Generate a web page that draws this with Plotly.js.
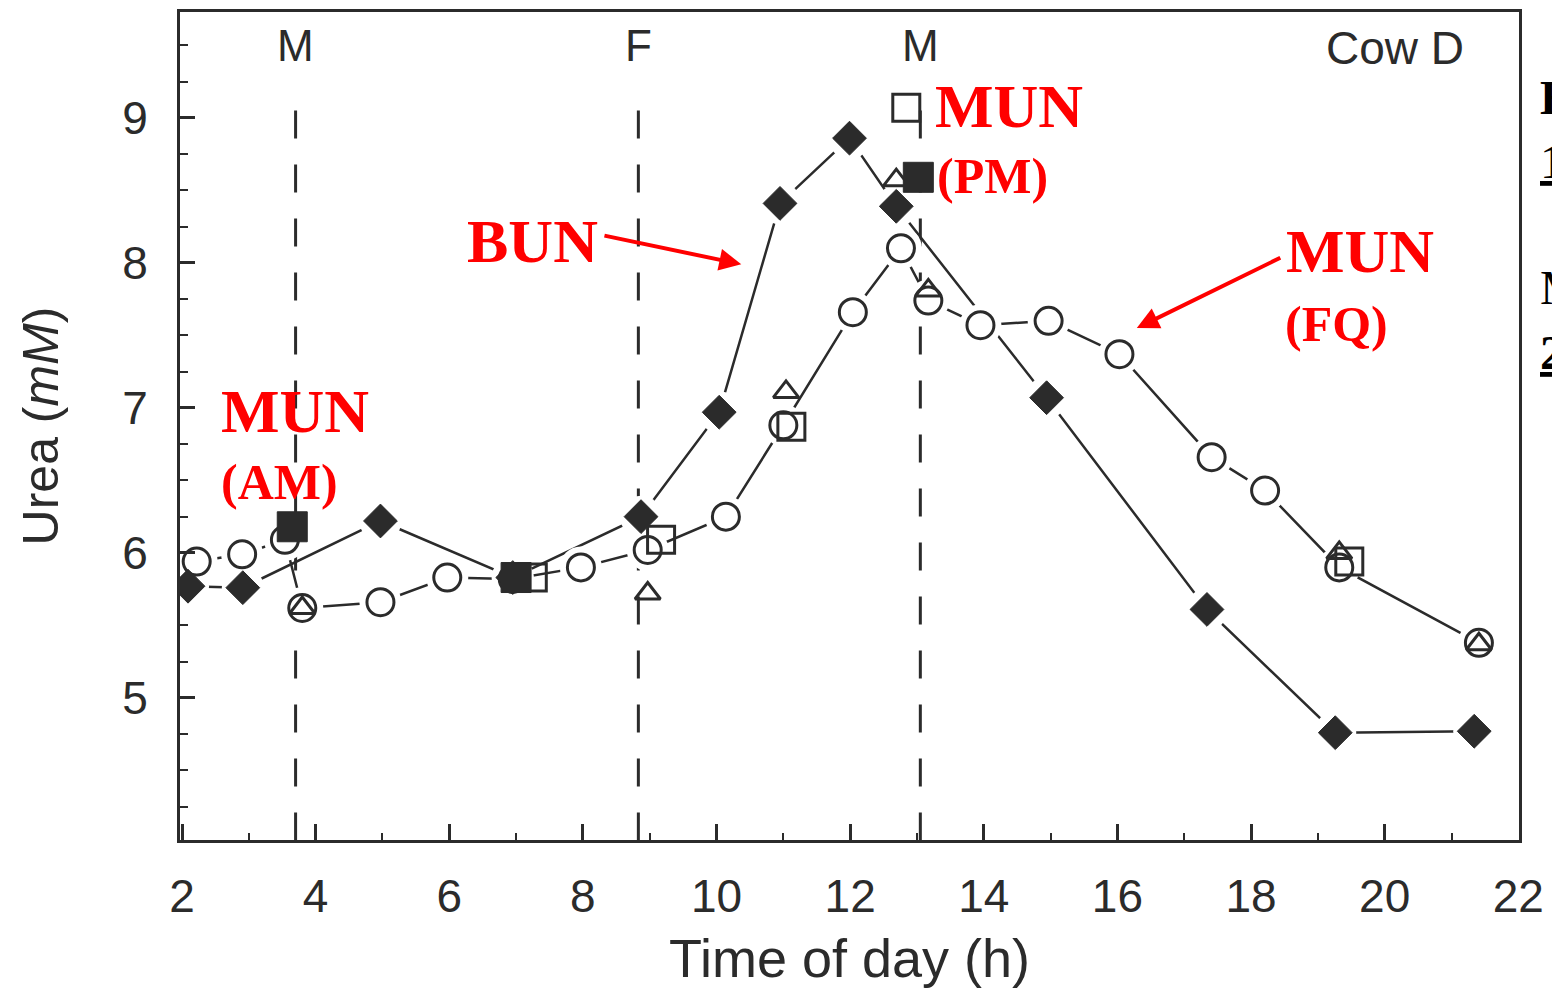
<!DOCTYPE html>
<html>
<head>
<meta charset="utf-8">
<script src="https://cdn.plot.ly/plotly-3.0.1.min.js"></script>
<style>html,body{margin:0;padding:0;background:#fff;overflow:hidden}</style>
</head>
<body>
<div id="chart" style="width:1552px;height:999px"></div>
<script>
// ---- Data ----
const bunTime  = [2.09, 2.91, 4.97, 6.95, 8.87, 10.04, 10.95, 11.99, 12.69, 14.94, 17.34, 19.26, 21.34];
const bunUrea  = [5.77, 5.76, 6.22, 5.83, 6.25, 6.97, 8.41, 8.86, 8.39, 7.07, 5.61, 4.76, 4.77];

const fqTime   = [2.22, 2.90, 3.54, 3.80, 4.97, 5.97, 6.95, 7.97, 8.97, 10.14, 11.00, 12.04, 12.76, 13.17, 13.95, 14.97, 16.03, 17.41, 18.21, 19.32, 21.41];
const fqUrea   = [5.94, 5.99, 6.09, 5.62, 5.66, 5.83, 5.82, 5.90, 6.02, 6.25, 6.88, 7.66, 8.10, 7.74, 7.57, 7.60, 7.37, 6.66, 6.43, 5.90, 5.38];

const openSqTime = [7.25, 9.17, 11.12, 12.84, 19.47];
const openSqUrea = [5.83, 6.09, 6.87, 9.07, 5.94];

const triTime  = [3.80, 8.97, 11.04, 12.69, 13.17, 19.32, 21.41];
const triUrea  = [5.62, 5.72, 7.11, 8.57, 7.81, 6.00, 5.37];

const fillSqTime = [3.65, 7.00, 13.02];
const fillSqUrea = [6.18, 5.83, 8.59];

const eventTimes  = [3.70, 8.83, 13.05];
const eventLabels = ['M', 'F', 'M'];

const xTickVals = [2, 4, 6, 8, 10, 12, 14, 16, 18, 20, 22];
const yTickVals = [5, 6, 7, 8, 9];

// ---- Styling ----
const ink = '#2b2b2b';
const red = '#ff0000';
const sans = 'Liberation Sans, Arial, sans-serif';
const serif = 'Liberation Serif, Times New Roman, serif';

function lineTrace(x, y) {
  return {x, y, type: 'scatter', mode: 'lines', line: {color: ink, width: 2.5}, hoverinfo: 'skip'};
}
function haloTrace(x, y, size) {
  return {x, y, type: 'scatter', mode: 'markers', marker: {symbol: 'circle', size: size, color: '#ffffff'}, hoverinfo: 'skip'};
}
function markerTrace(x, y, symbol, size, fill, lineW) {
  return {x, y, type: 'scatter', mode: 'markers',
    marker: {symbol, size, color: fill, line: {color: ink, width: lineW}}};
}

const data = [
  lineTrace(bunTime, bunUrea),
  lineTrace(fqTime, fqUrea),
  haloTrace(bunTime, bunUrea, 42),
  haloTrace(fqTime, fqUrea, 42),
  markerTrace(fqTime, fqUrea, 'circle', 27, '#ffffff', 3),
  markerTrace(openSqTime, openSqUrea, 'square', 27, 'rgba(255,255,255,0)', 3),
  markerTrace(triTime, triUrea, 'triangle-up', 22, 'rgba(255,255,255,0)', 3),
  markerTrace(bunTime, bunUrea, 'diamond', 26, ink, 1),
  markerTrace(fillSqTime, fillSqUrea, 'square', 30, ink, 1)
];

const shapes = eventTimes.map(t => ({
  type: 'line', xref: 'x', yref: 'y', x0: t, x1: t, y0: 9.05, y1: 4.02, layer: 'below',
  line: {color: ink, width: 3, dash: '28px,26px'}
}));

const annotations = [];
eventTimes.forEach((t, i) => annotations.push({
  x: t, y: 9.50, xref: 'x', yref: 'y', text: eventLabels[i], showarrow: false,
  font: {family: sans, size: 44, color: ink}, xanchor: 'center', yanchor: 'middle'
}));
annotations.push({x: 20.16, y: 9.48, xref: 'x', yref: 'y', text: 'Cow D', showarrow: false,
  font: {family: sans, size: 46, color: ink}, xanchor: 'center', yanchor: 'middle'});

// red labels
function redText(x, y, text, size) {
  return {x, y, xref: 'x', yref: 'y', text: '<b>' + text + '</b>', showarrow: false,
    font: {family: serif, size, color: red}, xanchor: 'left', yanchor: 'middle'};
}
annotations.push(redText(6.24, 8.15, 'BUN', 62));
annotations.push(redText(13.24, 9.08, 'MUN', 62));
annotations.push(redText(13.27, 8.60, '(PM)', 50));
annotations.push(redText(18.50, 8.08, 'MUN', 62));
annotations.push(redText(18.48, 7.58, '(FQ)', 50));
annotations.push(redText(2.55, 6.98, 'MUN', 62));
annotations.push(redText(2.55, 6.49, '(AM)', 50));

// red arrows
annotations.push({x: 10.37, y: 7.99, ax: 8.30, ay: 8.19, xref: 'x', yref: 'y', axref: 'x', ayref: 'y',
  text: '', showarrow: true, arrowhead: 2, arrowsize: 1.1, arrowwidth: 4, arrowcolor: red});
annotations.push({x: 16.29, y: 7.55, ax: 18.46, ay: 8.04, xref: 'x', yref: 'y', axref: 'x', ayref: 'y',
  text: '', showarrow: true, arrowhead: 2, arrowsize: 1.1, arrowwidth: 4, arrowcolor: red});

// slide text that the reference shows clipped at its right edge
function edgeText(y, text, bold, under) {
  return {x: 1.0142, y, xref: 'paper', yref: 'paper', text: bold ? '<b>' + text + '</b>' : text,
    showarrow: false, xanchor: 'left', yanchor: 'middle',
    font: {family: serif, size: 48, color: '#000', lineposition: under ? 'under' : 'none'}};
}
annotations.push(edgeText(0.897, 'B', true, false));
annotations.push(edgeText(0.819, '1', false, true));
annotations.push(edgeText(0.667, 'M', false, false));
annotations.push(edgeText(0.589, '2', true, true));

const layout = {
  width: 1552, height: 999, autosize: false,
  margin: {l: 180, r: 33, t: 12, b: 159, pad: 0},
  paper_bgcolor: '#ffffff', plot_bgcolor: '#ffffff',
  showlegend: false,
  font: {family: sans, color: ink},
  xaxis: {
    range: [1.97, 22.01], tickvals: xTickVals, ticktext: xTickVals.map(String),
    ticks: 'inside', ticklen: 16, tickwidth: 3, tickcolor: ink,
    minor: {dtick: 1, tick0: 2, ticks: 'inside', ticklen: 7, tickwidth: 2, tickcolor: ink, showgrid: false},
    showline: true, linewidth: 3, linecolor: ink, mirror: true,
    showgrid: false, zeroline: false,
    tickfont: {family: sans, size: 46, color: ink}, ticklabelstandoff: 14,
    title: {text: '\u00a0\u00a0\u00a0\u00a0\u00a0Time of day (h)', font: {family: sans, size: 54, color: ink}, standoff: 18}
  },
  yaxis: {
    range: [4.02, 9.73], tickvals: yTickVals, ticktext: yTickVals.map(String),
    ticks: 'inside', ticklen: 15, tickwidth: 3, tickcolor: ink,
    minor: {dtick: 0.25, tick0: 5, ticks: 'inside', ticklen: 8, tickwidth: 2, tickcolor: ink, showgrid: false},
    showline: true, linewidth: 3, linecolor: ink, mirror: true,
    showgrid: false, zeroline: false,
    tickfont: {family: sans, size: 46, color: ink}, ticklabelstandoff: 20,
    title: {text: 'Urea (<i>mM</i>)', font: {family: sans, size: 50, color: ink}, standoff: 48}
  },
  shapes, annotations
};

Plotly.newPlot('chart', data, layout, {displayModeBar: false, staticPlot: true});
</script>
</body>
</html>
